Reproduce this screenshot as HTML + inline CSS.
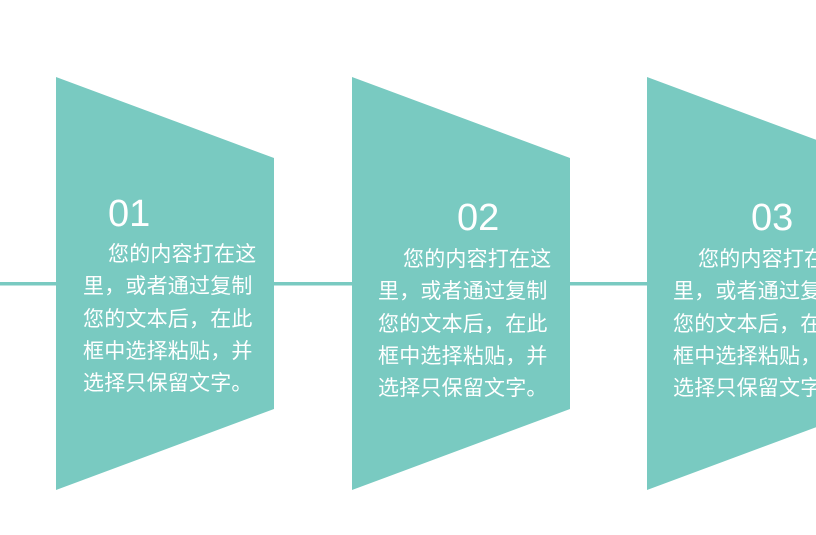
<!DOCTYPE html>
<html><head><meta charset="utf-8"><style>
html,body{margin:0;padding:0;width:816px;height:535px;overflow:hidden;background:#fff;}
.t{position:absolute;color:#fff;font-family:"Liberation Sans","Noto Sans CJK SC",sans-serif;font-size:21px;letter-spacing:0.2px;line-height:32.3px;white-space:nowrap;}
.n{position:absolute;color:#fff;font-family:"Liberation Sans","Noto Sans CJK SC",sans-serif;font-size:38px;line-height:38px;}
</style></head><body>
<svg width="816" height="535" style="position:absolute;left:0;top:0">
<rect x="0" y="282" width="816" height="3.5" fill="#79cac1"/>
<polygon points="56,77 274,158 274,409 56,490" fill="#79cac1"/>
<polygon points="352,77 570,158 570,409 352,490" fill="#79cac1"/>
<polygon points="647,77 865,158 865,409 647,490" fill="#79cac1"/>
</svg>
<div class="n" style="left:108px;top:195px">01</div>
<div class="n" style="left:457px;top:199px">02</div>
<div class="n" style="left:751px;top:199px">03</div>
<div class="t" style="left:83px;top:239px"><span style="padding-left:25px"></span>您的内容打在这<br>里，或者通过复制<br>您的文本后，在此<br>框中选择粘贴，并<br>选择只保留文字。</div>
<div class="t" style="left:378px;top:244px"><span style="padding-left:25px"></span>您的内容打在这<br>里，或者通过复制<br>您的文本后，在此<br>框中选择粘贴，并<br>选择只保留文字。</div>
<div class="t" style="left:673px;top:244px"><span style="padding-left:25px"></span>您的内容打在这<br>里，或者通过复制<br>您的文本后，在此<br>框中选择粘贴，并<br>选择只保留文字。</div>
</body></html>
